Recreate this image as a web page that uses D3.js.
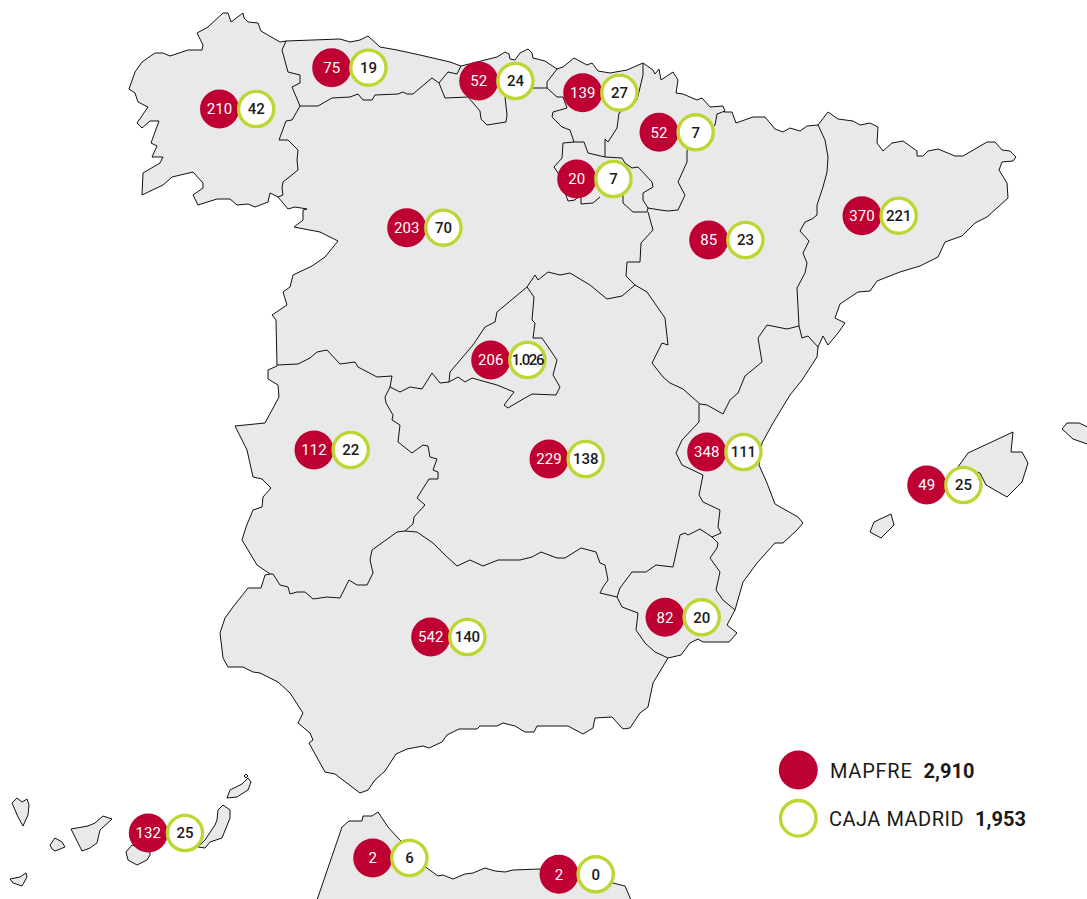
<!DOCTYPE html>
<html>
<head>
<meta charset="utf-8">
<script src="https://cdn.jsdelivr.net/npm/d3@7"></script>
<style>
  html, body { margin: 0; background: #fff; }
  svg { display: block; }
  text { font-family: Roboto, sans-serif; }
</style>
</head>
<body>
<div id="map"></div>
<script>
"use strict";

// values
const regions = ["Galicia", "Asturias", "Cantabria", "Pais Vasco", "Navarra", "La Rioja", "Castilla y Leon", "Aragon", "Cataluna", "Madrid", "Extremadura", "Castilla-La Mancha", "C. Valenciana", "Baleares", "Murcia", "Andalucia", "Canarias", "Ceuta", "Melilla"];
const mapfre = ["210", "75", "52", "139", "52", "20", "203", "85", "370", "206", "112", "229", "348", "49", "82", "542", "132", "2", "2"];
const cajaMadrid = ["42", "19", "24", "27", "7", "7", "70", "23", "221", "1.026", "22", "138", "111", "25", "20", "140", "25", "6", "0"];
const legendNames = ["MAPFRE", "CAJA MADRID"];
const legendTotals = ["2,910", "1,953"];

// geography, in map units
const anchors = [[219.5, 109], [331.7, 67.7], [478.7, 81], [582.7, 92.7], [659, 132.3], [576.7, 179], [406.7, 227.7], [708.7, 240], [862, 215.7], [490.7, 360], [314, 450], [549, 459], [706.7, 452], [926.7, 485], [665, 617.3], [430.7, 637], [148.3, 833], [372.7, 858], [559, 874.3]];
const legendAnchors = [[798.3, 770], [798.3, 818.3]];

const mainland = [[243,13],[244,18],[248,22],[258,23],[261,31],[273,38],[280,42],[286,41],[340,39],[350,42],[360,40],[368,36],[380,47],[397,50],[420,55],[450,62],[461,66],[497,57],[505,52],[509,54],[510,59],[515,60],[520,53],[528,49],[532,53],[533,58],[545,61],[557,69],[563,67],[574,58],[587,65],[592,63],[598,71],[610,73],[627,70],[643,63],[653,70],[655,74],[659,69],[661,80],[673,72],[678,80],[676,93],[683,94],[697,100],[702,98],[710,107],[723,106],[725,111],[724,112],[732,112],[736,123],[753,117],[765,117],[775,129],[783,132],[790,128],[800,131],[807,126],[818,125],[828,112],[838,119],[853,121],[860,125],[870,123],[878,127],[877,143],[883,151],[892,143],[903,141],[917,151],[917,156],[923,156],[928,151],[938,149],[955,156],[963,156],[987,142],[995,142],[1002,150],[1010,151],[1016,157],[1013,161],[1002,162],[999,170],[1007,183],[1008,198],[987,217],[975,223],[962,236],[945,242],[938,257],[920,266],[900,272],[877,281],[870,291],[858,292],[840,304],[835,318],[845,323],[838,333],[828,345],[823,336],[818,347],[817,357],[802,380],[790,395],[773,423],[762,443],[759,465],[767,483],[775,504],[798,517],[803,523],[797,530],[783,543],[775,543],[757,563],[743,582],[735,610],[727,625],[737,633],[729,642],[703,642],[698,639],[690,643],[681,655],[668,658],[653,683],[648,707],[640,713],[630,728],[623,729],[612,717],[595,718],[593,728],[583,734],[568,726],[537,726],[534,732],[525,732],[515,726],[503,723],[497,726],[480,726],[477,729],[459,729],[447,735],[442,742],[429,748],[423,746],[407,749],[396,754],[385,771],[375,780],[368,790],[360,793],[335,774],[325,772],[309,743],[313,740],[310,733],[298,723],[303,713],[290,693],[278,682],[260,673],[253,672],[243,667],[228,667],[223,658],[220,633],[225,618],[233,607],[248,588],[261,588],[265,575],[270,574],[257,565],[242,540],[246,527],[253,510],[262,507],[263,497],[271,488],[262,479],[253,477],[247,450],[235,426],[265,423],[279,397],[278,385],[268,379],[268,370],[277,366],[276,320],[272,315],[287,305],[283,292],[290,287],[293,275],[312,266],[325,257],[338,241],[320,232],[294,227],[303,220],[303,210],[307,209],[295,207],[288,209],[278,197],[270,193],[268,202],[255,207],[248,204],[237,205],[230,199],[217,199],[198,205],[193,195],[203,188],[203,183],[193,172],[172,177],[163,185],[142,195],[143,173],[160,163],[163,157],[152,157],[157,146],[151,143],[159,121],[150,121],[142,128],[137,123],[148,107],[138,102],[135,93],[129,89],[135,72],[142,62],[155,53],[163,53],[170,56],[188,50],[202,50],[203,45],[197,33],[208,27],[223,13],[228,13],[231,22],[243,13]];

const islands = [
  [[968,453],[1013,432],[1011,452],[1022,452],[1028,463],[1022,482],[1007,497],[986,485],[980,473],[958,467],[968,453]],
  [[1062,429],[1067,423],[1079,423],[1090,428],[1090,445],[1073,439],[1062,429]],
  [[891,514],[894,525],[881,538],[870,532],[874,522],[891,514]],
  [[12,803],[17,798],[22,802],[27,799],[29,805],[28,815],[23,826],[18,817],[12,803]],
  [[50,845],[55,838],[62,842],[65,847],[55,851],[52,849],[50,845]],
  [[10,879],[20,877],[26,873],[27,877],[22,886],[13,883],[10,879]],
  [[71,829],[88,826],[95,823],[103,816],[112,819],[100,830],[97,843],[90,848],[82,851],[75,837],[71,829]],
  [[126,852],[132,845],[150,850],[150,855],[147,860],[137,865],[128,860],[126,852]],
  [[217,820],[218,810],[223,805],[230,810],[230,818],[222,838],[210,842],[205,848],[198,847],[205,840],[215,825],[217,820]],
  [[227,798],[230,790],[242,784],[248,778],[251,782],[248,790],[237,797],[227,798]],
  [[244,776],[246,774],[248,776],[246,778],[244,776]],
  [[317,900],[342,827],[349,821],[362,821],[363,816],[372,816],[378,812],[388,827],[397,837],[427,868],[438,876],[443,875],[453,879],[465,874],[473,873],[485,868],[495,871],[505,872],[513,870],[540,869],[613,883],[625,886],[631,900],[317,900]]
];

const borders = [
  // galicia
  [[286,41],[282,50],[288,72],[300,75],[300,83],[292,87],[300,106],[292,120],[286,121],[279,140],[288,140],[298,150],[297,160],[298,170],[283,182],[282,188],[283,195],[278,197]],
  // asturias
  [[300,106],[318,106],[332,98],[350,97],[358,94],[363,100],[372,100],[375,95],[398,94],[403,92],[407,94],[413,94],[420,88],[432,78],[439,83],[448,72],[457,74],[461,66]],
  // cantabria
  [[439,83],[445,98],[468,97],[480,111],[481,119],[487,125],[506,122],[507,115],[505,97]],
  [[505,88],[533,88],[547,88],[547,82],[557,69]],
  // pais vasco
  [[547,88],[557,97],[563,97],[567,108],[553,112],[552,117],[562,127],[570,130],[574,142]],
  [[643,63],[643,75],[637,100],[619,113],[617,128],[608,142],[605,139],[605,157]],
  // la rioja
  [[574,142],[584,142],[588,153],[605,157],[622,158],[625,163],[632,168],[638,167],[652,182],[653,187],[643,193],[643,200],[648,208]],
  [[574,142],[563,143],[562,158],[554,167],[558,173],[568,201],[575,200],[578,197]],
  [[581,198],[581,204],[593,203],[600,197]],
  [[623,190],[623,203],[633,212],[647,212],[648,208]],
  // navarra
  [[725,111],[717,114],[715,125],[687,150],[687,162],[678,182],[685,195],[678,210],[668,211],[660,210],[648,208]],
  // castilla y leon / aragon / clm
  [[648,212],[653,230],[641,243],[640,262],[627,262],[626,276],[635,285],[647,292],[665,318],[668,345],[662,343],[652,363],[663,377],[670,383],[683,389],[692,397],[700,404],[707,405],[723,414],[730,400],[738,393],[745,376],[762,362],[758,338],[767,325],[787,329],[799,326],[802,338],[808,336],[818,347]],
  // castilla y leon south
  [[635,285],[622,296],[607,299],[590,285],[570,273],[560,275],[548,272],[538,280],[535,275],[527,287],[497,312],[495,322],[485,327],[473,345],[450,372],[449,382],[440,383],[432,373],[422,389],[410,387],[400,392],[390,387],[392,376],[377,377],[358,367],[355,362],[340,364],[327,350],[317,352],[310,358],[298,364],[277,365]],
  // madrid
  [[449,382],[458,377],[465,382],[472,378],[497,385],[514,392],[504,405],[508,408],[518,402],[532,394],[556,395],[560,387],[553,375],[557,360],[542,338],[533,338],[535,323],[532,320],[534,297],[527,287]],
  // extremadura
  [[390,387],[385,397],[386,403],[393,415],[392,420],[400,425],[398,442],[412,453],[423,445],[428,446],[430,457],[437,459],[433,470],[438,472],[438,479],[429,479],[417,498],[425,505],[414,517],[413,524],[405,531],[397,532],[372,550],[370,560],[373,573],[367,585],[357,585],[349,580],[340,598],[327,597],[313,599],[305,592],[297,592],[290,594],[288,587],[280,585],[273,574],[270,574]],
  // andalucia / clm
  [[405,531],[417,532],[433,543],[445,555],[457,566],[470,560],[483,566],[498,560],[520,560],[532,557],[541,552],[557,558],[565,558],[581,548],[596,552],[600,563],[605,565],[608,580],[603,587],[600,593],[617,597]],
  // murcia
  [[617,597],[620,588],[632,572],[646,572],[656,565],[673,567],[680,535],[685,533],[688,535],[700,529],[712,537],[718,543],[717,548],[710,558],[720,572],[716,590],[723,600],[735,610]],
  [[617,597],[622,607],[638,613],[636,630],[645,643],[655,652],[668,658]],
  // valencia / clm
  [[699,404],[699,422],[682,440],[676,453],[682,465],[703,475],[699,495],[703,502],[720,510],[718,527],[721,533],[712,537]],
  // cataluna
  [[818,125],[825,140],[828,157],[827,172],[823,187],[817,205],[817,215],[812,219],[805,222],[800,231],[809,241],[803,253],[807,263],[805,273],[797,288],[799,326]]
];

const width = 1087, height = 899;
const ringOffset = 36.7, radius = 19.5, ringRadius = 17.6;
const red = "#be0032", green = "#bdd632", land = "#e9e9e9";

const projection = d3.geoIdentity();
const path = d3.geoPath(projection);

const svg = d3.select("#map")
  .append("svg")
    .attr("width", width)
    .attr("height", height);

// land
svg.append("path")
  .datum({ type: "MultiPolygon", coordinates: [mainland].concat(islands).map(function(p) { return [p]; }) })
  .attr("d", path)
  .attr("fill", land)
  .attr("stroke", "#111")
  .attr("stroke-width", 1)
  .attr("stroke-linejoin", "round");

// region borders
svg.append("path")
  .datum({ type: "MultiLineString", coordinates: borders })
  .attr("d", path)
  .attr("fill", "none")
  .attr("stroke", "#111")
  .attr("stroke-width", 1)
  .attr("stroke-linejoin", "round");

// one red dot and one green ring per region
const pair = svg.append("g")
  .selectAll("g")
  .data(regions)
  .join("g")
    .attr("transform", function(d, i) { return "translate(" + projection(anchors[i]) + ")"; });

pair.append("circle")
  .attr("r", radius)
  .attr("fill", red);

pair.append("circle")
  .attr("cx", ringOffset)
  .attr("r", ringRadius)
  .attr("fill", "#fff")
  .attr("stroke", green)
  .attr("stroke-width", 3.4);

pair.append("text")
  .attr("y", 5.4)
  .attr("text-anchor", "middle")
  .attr("fill", "#fff")
  .attr("font-size", 15)
  .attr("letter-spacing", 0.1)
  .text(function(d, i) { return mapfre[i]; });

pair.append("text")
  .attr("x", ringOffset)
  .attr("y", 5.2)
  .attr("text-anchor", "middle")
  .attr("fill", "#1a1a1a")
  .attr("font-size", 15)
  .attr("font-weight", 500)
  .attr("letter-spacing", function(d, i) { return cajaMadrid[i].length > 3 ? -1.4 : -0.1; })
  .text(function(d, i) { return cajaMadrid[i]; });

// legend
const legend = svg.append("g")
  .selectAll("g")
  .data(legendNames)
  .join("g")
    .attr("transform", function(d, i) { return "translate(" + projection(legendAnchors[i]) + ")"; });

legend.append("circle")
  .attr("r", function(d, i) { return i === 0 ? radius : ringRadius + 0.2; })
  .attr("fill", function(d, i) { return i === 0 ? red : "#fff"; })
  .attr("stroke", function(d, i) { return i === 0 ? "none" : green; })
  .attr("stroke-width", 3.4);

const label = legend.append("text")
  .attr("x", function(d, i) { return i === 0 ? 31.7 : 30.7; })
  .attr("y", 7.5)
  .attr("fill", "#1a1a1a")
  .attr("font-size", 20);

label.append("tspan")
  .attr("letter-spacing", function(d, i) { return i === 0 ? 0.75 : 0.5; })
  .text(function(d) { return d; });

label.append("tspan")
  .attr("dx", 11)
  .attr("font-weight", 700)
  .text(function(d, i) { return legendTotals[i]; });
</script>
</body>
</html>
